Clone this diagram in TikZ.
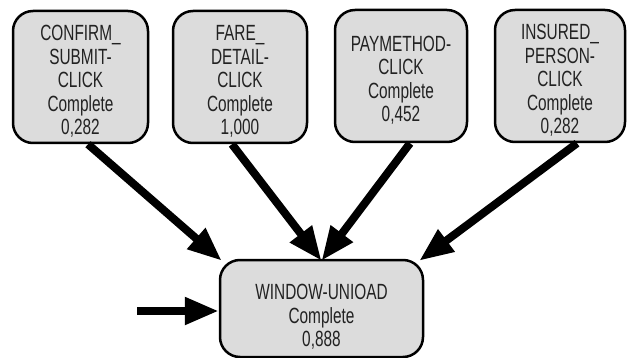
\documentclass[tikz,border=0pt]{standalone}
\usepackage{fontspec}
\setmainfont{Liberation Sans}[FakeStretch=0.7]
\usetikzlibrary{arrows.meta}
\definecolor{boxfill}{HTML}{DCDCDC}
\definecolor{labeltext}{HTML}{222222}
% invisible strut that lowers a centred label a little
\newcommand\lowerby[1]{\rule{0pt}{#1}}
\tikzset{
  activity/.style={draw=black, line width=2.5pt, fill=boxfill, rounded corners=20pt,
    align=center, text=labeltext, inner sep=0pt,
    font=\fontsize{22}{23.5}\selectfont},
  flow/.style={line width=8pt, -{Triangle[length=34pt, width=26pt]}}
}
\begin{document}
\begin{tikzpicture}[x=1pt, y=-1pt]
  \useasboundingbox (0,0) rectangle (628,358);

  % upper row of activities
  \node[activity, minimum width=135pt, minimum height=132pt] (confirm) at (80.5,77)
    {\lowerby{24pt}CONFIRM\_\\SUBMIT-\\CLICK\\Complete\\0,282};
  \node[activity, minimum width=134pt, minimum height=132pt] (fare) at (240,77)
    {\lowerby{24pt}FARE\_\\DETAIL-\\CLICK\\Complete\\1,000};
  \node[activity, minimum width=132pt, minimum height=132pt] (paymethod) at (401,76)
    {\lowerby{24pt}PAYMETHOD-\\CLICK\\Complete\\0,452};
  \node[activity, minimum width=130pt, minimum height=132pt] (insured) at (560,76)
    {\lowerby{24pt}INSURED\_\\PERSON-\\CLICK\\Complete\\0,282};

  % final activity
  \node[activity, minimum width=203pt, minimum height=97pt] (unload) at (321.5,308.5)
    {\lowerby{32pt}WINDOW-UNIOAD\\Complete\\0,888};

  % entry point
  \coordinate (entry) at (137,311);

  % connectors
  \draw[flow] ([xshift=7.5pt]confirm.south) -- ([shift={(3,2)}]unload.north west);
  \draw[flow] ([xshift=-8pt]fare.south) -- ([yshift=-2pt]unload.north);
  \draw[flow] ([xshift=9pt]paymethod.south) -- ([yshift=-2pt]unload.north);
  \draw[flow] ([xshift=17pt]insured.south) -- ([shift={(-5,2)}]unload.north east);
  \draw[flow] (entry) -- (entry -| unload.west);
\end{tikzpicture}
\end{document}
